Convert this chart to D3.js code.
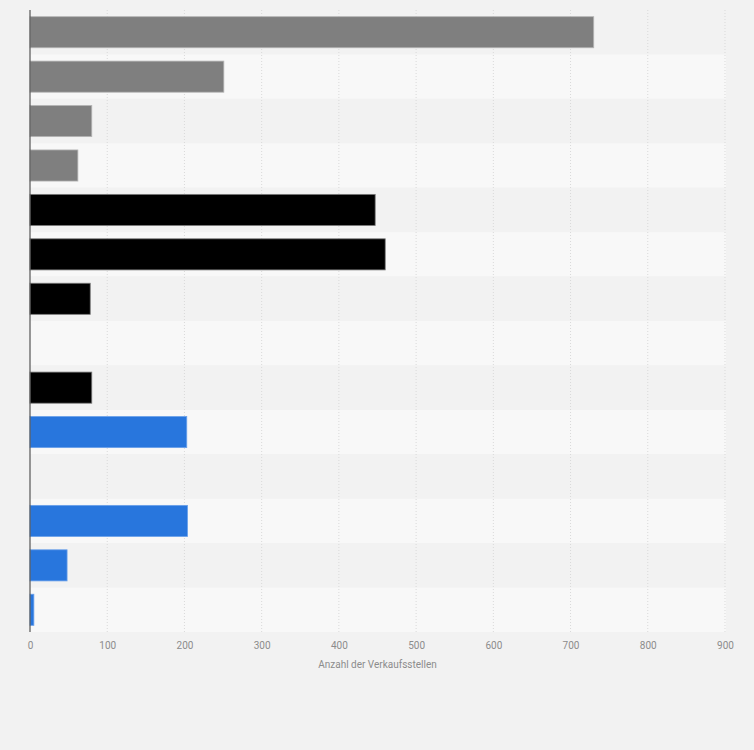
<!DOCTYPE html>
<html>
<head>
<meta charset="utf-8">
<script src="https://cdn.jsdelivr.net/npm/d3@7"></script>
<style>
  body { margin: 0; background: #f2f2f2; font-family: Roboto, "Open Sans", sans-serif; }
</style>
</head>
<body>
<div id="my_dataviz"></div>
<script>
// data (category labels are not shown in the chart)
var categories = ["r1", "r2", "r3", "r4", "r5", "r6", "r7", "r8", "r9", "r10", "r11", "r12", "r13", "r14"];
var values = [730, 251, 80, 62, 447, 460, 78, 0, 80, 203, 0, 204, 48, 5];
var groups = ["grau", "grau", "grau", "grau", "schwarz", "schwarz", "schwarz", "schwarz", "schwarz", "blau", "blau", "blau", "blau", "blau"];
var xTicks = [0, 100, 200, 300, 400, 500, 600, 700, 800, 900];
var xTitle = "Anzahl der Verkaufsstellen";

var colors = { grau: "#7f7f7f", schwarz: "#000000", blau: "#2876dd" };
var strokes = { grau: "#b5b5b5", schwarz: "#7a7a7a", blau: "#6aa0ea" };

// set the dimensions and margins of the graph
var margin = { top: 10, right: 29, bottom: 118, left: 30 },
    width = 754 - margin.left - margin.right,
    height = 750 - margin.top - margin.bottom;

var svg = d3.select("#my_dataviz")
    .append("svg")
    .attr("width", 754)
    .attr("height", 750)
    .append("g")
    .attr("transform", "translate(" + margin.left + "," + margin.top + ")");

var x = d3.scaleLinear()
    .domain([0, 900])
    .range([0, width]);

var y = d3.scaleBand()
    .domain(categories)
    .range([0, height]);

// alternating row bands
svg.append("g")
    .selectAll("rect")
    .data(categories)
    .enter()
    .append("rect")
    .attr("x", 0)
    .attr("y", function(d) { return y(d); })
    .attr("width", width + 1)
    .attr("height", y.bandwidth())
    .style("fill", function(d, i) { return i % 2 === 0 ? "#f2f2f2" : "#f8f8f8"; });

// vertical grid lines
svg.append("g")
    .selectAll("line")
    .data(xTicks.slice(1))
    .enter()
    .append("line")
    .attr("x1", function(d) { return x(d); })
    .attr("x2", function(d) { return x(d); })
    .attr("y1", 0)
    .attr("y2", height)
    .style("stroke", "#d9d9d9")
    .style("stroke-dasharray", "1,2");

// X axis
var xAxis = svg.append("g")
    .attr("transform", "translate(0," + height + ")")
    .call(d3.axisBottom(x).tickValues(xTicks).tickSize(0).tickPadding(10));
xAxis.select(".domain").remove();
xAxis.selectAll("text")
    .style("fill", "#8c8c8c")
    .style("font-size", "10px")
    .style("font-family", "Roboto, sans-serif");

svg.append("text")
    .attr("x", width / 2)
    .attr("y", height + 36)
    .attr("text-anchor", "middle")
    .style("fill", "#8c8c8c")
    .style("font-size", "10px")
    .text(xTitle);

// bars
var bh = y.bandwidth() * 0.7;
svg.selectAll(".bar")
    .data(categories.map(function(c, i) { return { c: c, v: values[i], g: groups[i] }; })
        .filter(function(d) { return d.v > 0; }))
    .enter()
    .append("rect")
    .attr("class", "bar")
    .attr("x", 0)
    .attr("y", function(d) { return y(d.c) + (y.bandwidth() - bh) / 2; })
    .attr("width", function(d) { return x(d.v); })
    .attr("height", bh)
    .style("fill", function(d) { return colors[d.g]; })
    .style("stroke", function(d) { return strokes[d.g]; })
    .style("stroke-width", 0.8);

// left axis line
svg.append("line")
    .attr("x1", 0).attr("x2", 0)
    .attr("y1", 0).attr("y2", height)
    .style("stroke", "#555")
    .style("stroke-width", 1.2);
</script>
</body>
</html>
